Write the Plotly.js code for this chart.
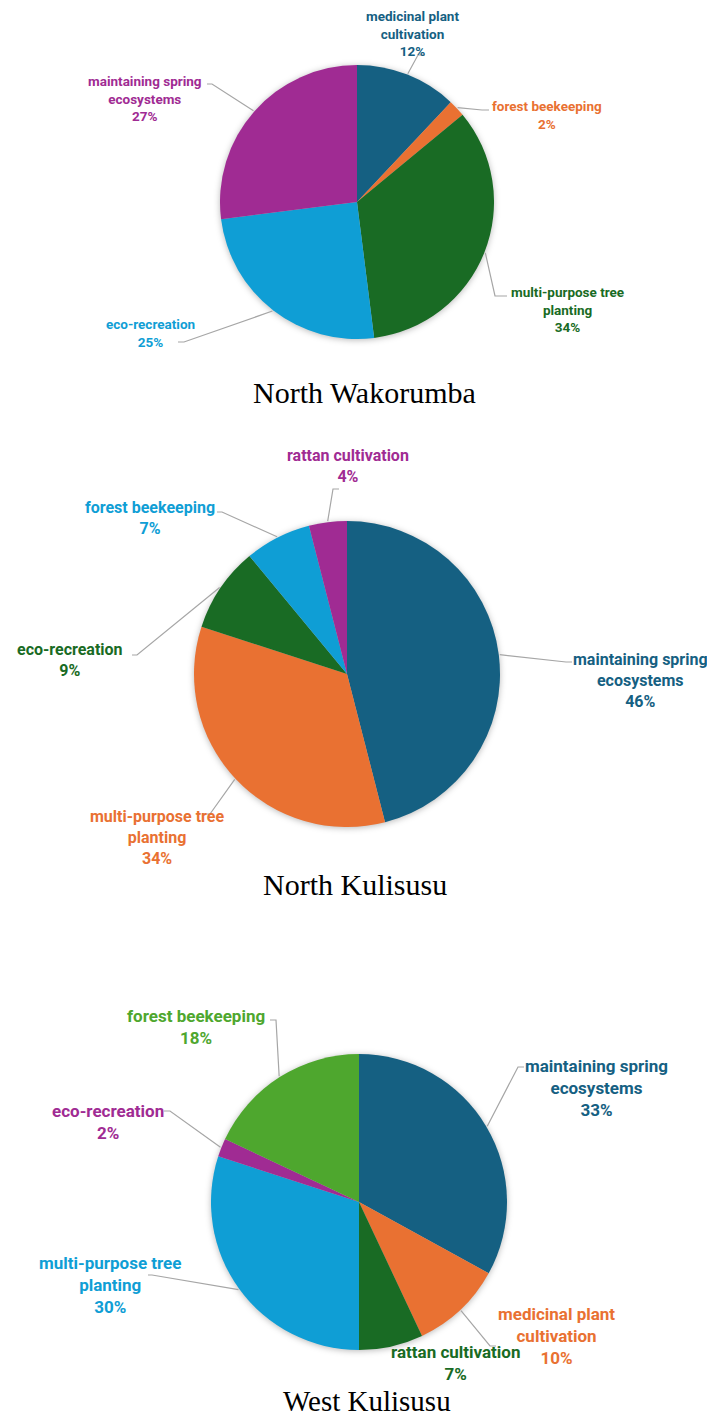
<!DOCTYPE html>
<html>
<head>
<meta charset="utf-8">
<script src="https://cdn.plot.ly/plotly-3.0.1.min.js"></script>
<style>
  html, body { margin: 0; padding: 0; background: #fff; }
  #chart { width: 707px; height: 1416px; }
  .pielayer .trace { filter: drop-shadow(0px 1px 3px rgba(0,0,0,0.28)); }
</style>
</head>
<body>
<div id="chart"></div>
<script>
// ---------------- DATA ----------------
const chartTitles = ['North Wakorumba', 'North Kulisusu', 'West Kulisusu'];

const wakorumbaLabels = ['medicinal plant\ncultivation', 'forest beekeeping', 'multi-purpose tree\nplanting', 'eco-recreation', 'maintaining spring\necosystems'];
const wakorumbaValues = [12, 2, 34, 25, 27];

const northKulisusuLabels = ['maintaining spring\necosystems', 'multi-purpose tree\nplanting', 'eco-recreation', 'forest beekeeping', 'rattan cultivation'];
const northKulisusuValues = [46, 34, 9, 7, 4];

const westKulisusuLabels = ['maintaining spring\necosystems', 'medicinal plant\ncultivation', 'rattan cultivation', 'multi-purpose tree\nplanting', 'eco-recreation', 'forest beekeeping'];
const westKulisusuValues = [33, 10, 7, 30, 2, 18];

// ---------------- STYLE / PLACEMENT ----------------
const W = 707, H = 1416;
const themeColors = ['#156082', '#E97132', '#196B24', '#0F9ED5', '#A02B93', '#4EA72E'];
const labelFont = 'Roboto, "Open Sans", sans-serif';
const titleFont = '"Liberation Serif", "DejaVu Serif", serif';

// pie geometry in pixels: centre x, centre y, radius, label font size, title centre y
const pieGeom = [
  {cx: 357, cy: 202, r: 137, fs: 13.5, titleY: 392, titleSize: 30},
  {cx: 347, cy: 674, r: 153, fs: 16, titleY: 884, titleSize: 30},
  {cx: 359, cy: 1202, r: 148, fs: 17, titleY: 1401, titleSize: 29}
];
// label placement per slice: text centre (tx, ty), leader end (ex, ey), horizontal tail hx (null = no leader)
const labelPlacement = [
  [
    {tx: 412, ty: 33.5, ex: 418, ey: 55, hx: 7},
    {tx: 547, ty: 115, ex: 482, ey: 110, hx: 7},
    {tx: 567, ty: 309.5, ex: 495, ey: 296, hx: 12},
    {tx: 150, ty: 332.5, ex: 184, ey: 342, hx: -6},
    {tx: 145, ty: 98.5, ex: 212, ey: 84, hx: -5}
  ],
  [
    {tx: 640, ty: 680.5, ex: 566, ey: 662, hx: 6},
    {tx: 157, ty: 837.5, ex: 210, ey: 814, hx: -8},
    {tx: 70, ty: 660, ex: 137, ey: 655, hx: -5},
    {tx: 150, ty: 518, ex: 222, ey: 512, hx: -5},
    {tx: 348, ty: 466.5, ex: 333, ey: 489, hx: 6}
  ],
  [
    {tx: 596, ty: 1088, ex: 518, ey: 1067, hx: 6},
    {tx: 556, ty: 1336, ex: 490, ey: 1346, hx: 6},
    {tx: 456, ty: 1363, ex: null, ey: null, hx: null},
    {tx: 110, ty: 1284.5, ex: 152, ey: 1275, hx: -4},
    {tx: 108, ty: 1121.5, ex: 170, ey: 1111, hx: -6},
    {tx: 196, ty: 1026.5, ex: 276, ey: 1020, hx: -6}
  ]
];

// ---------------- BUILD ----------------
const px = x => x / W;
const py = y => 1 - y / H;

const series = [
  {labels: wakorumbaLabels, values: wakorumbaValues},
  {labels: northKulisusuLabels, values: northKulisusuValues},
  {labels: westKulisusuLabels, values: westKulisusuValues}
];

const traces = [];
const annotations = [];
const shapes = [];

series.forEach((s, i) => {
  const g = pieGeom[i];
  const colors = s.values.map((_, k) => themeColors[k % themeColors.length]);
  traces.push({
    type: 'pie',
    labels: s.labels.map(l => l.replace('\n', ' ')),
    values: s.values,
    sort: false,
    direction: 'clockwise',
    rotation: 0,
    textinfo: 'none',
    hoverinfo: 'skip',
    marker: {colors: colors, line: {width: 0}},
    domain: {x: [px(g.cx - g.r), px(g.cx + g.r)], y: [py(g.cy + g.r), py(g.cy - g.r)]},
    showlegend: false
  });

  const total = s.values.reduce((a, b) => a + b, 0);
  let cum = 0;
  s.values.forEach((v, k) => {
    const mid = (cum + v / 2) / total * 2 * Math.PI;
    cum += v;
    const p = labelPlacement[i][k];
    const pct = Math.round(v / total * 100) + '%';
    annotations.push({
      xref: 'paper', yref: 'paper',
      x: px(p.tx), y: py(p.ty),
      xanchor: 'center', yanchor: 'middle',
      text: '<b>' + s.labels[k].replace('\n', '<br>') + '<br>' + pct + '</b>',
      showarrow: false,
      align: 'center',
      font: {family: labelFont, size: g.fs, color: colors[k]}
    });
    if (p.ex !== null) {
      const sx = g.cx + (g.r + 1) * Math.sin(mid);
      const sy = g.cy - (g.r + 1) * Math.cos(mid);
      shapes.push({
        type: 'path', xref: 'paper', yref: 'paper', layer: 'above',
        path: 'M ' + px(sx) + ',' + py(sy) + ' L ' + px(p.ex) + ',' + py(p.ey) + ' L ' + px(p.ex + p.hx) + ',' + py(p.ey),
        line: {color: '#A6A6A6', width: 1.2}
      });
    }
  });

  annotations.push({
    xref: 'paper', yref: 'paper',
    x: px(g.cx + 8), y: py(g.titleY),
    xanchor: 'center', yanchor: 'middle',
    text: chartTitles[i],
    showarrow: false,
    font: {family: titleFont, size: g.titleSize, color: '#000'}
  });
});

const layout = {
  width: W, height: H,
  margin: {l: 0, r: 0, t: 0, b: 0},
  paper_bgcolor: '#ffffff',
  plot_bgcolor: '#ffffff',
  showlegend: false,
  annotations: annotations,
  shapes: shapes
};

Plotly.newPlot('chart', traces, layout, {staticPlot: true, displayModeBar: false});
</script>
</body>
</html>
